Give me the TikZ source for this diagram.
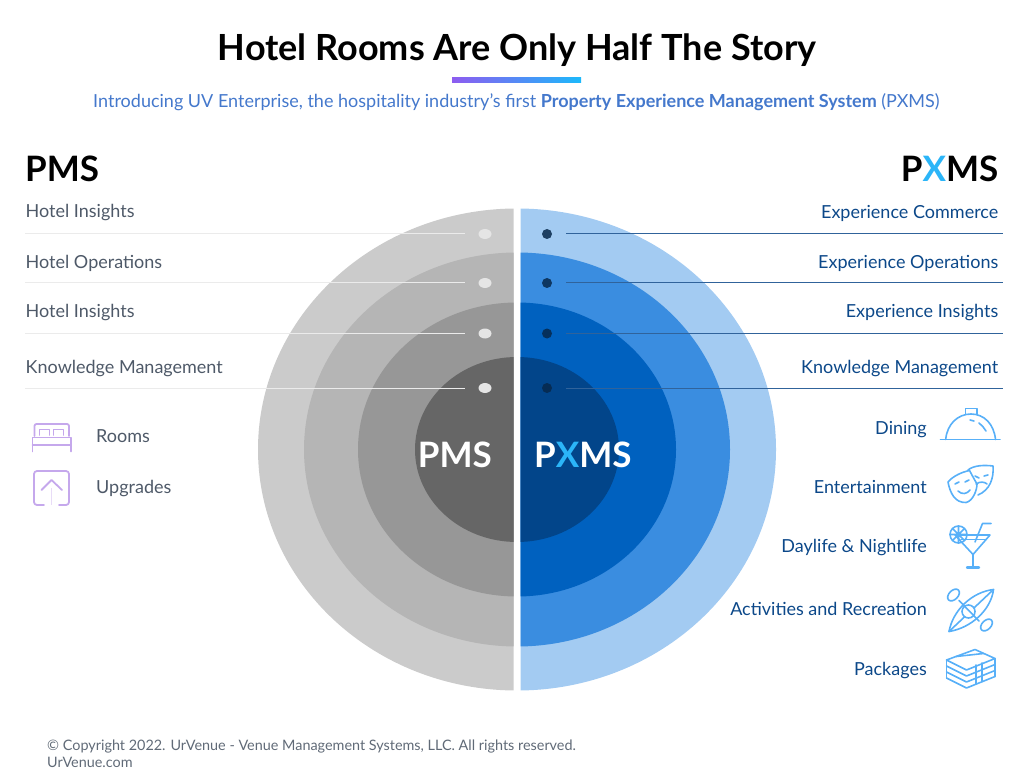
\documentclass[tikz,border=0pt]{standalone}
\usepackage{fontspec}
\setmainfont{Lato}
\usepackage{tikz}
\usetikzlibrary{positioning,
                shapes.geometric,
                arrows.meta}

\definecolor{pmstext}{HTML}{4E5968}
\definecolor{pxmstext}{HTML}{0C4889}
\definecolor{subblue}{HTML}{4478CC}
\definecolor{xblue}{HTML}{2BB5F8}
\definecolor{iconblue}{HTML}{58B0F8}
\definecolor{iconpurple}{HTML}{C5A8EC}
\definecolor{barleft}{HTML}{8D5CF0}
\definecolor{barright}{HTML}{1CB9FB}

\tikzset{
    pmslabel/.style={anchor=west, inner sep=0pt, text=pmstext, font=\fontsize{18}{20}\selectfont},
    pxmslabel/.style={anchor=east, inner sep=0pt, text=pxmstext, font=\fontsize{18}{20}\selectfont},
    heading/.style={inner sep=0pt, text=black, font=\fontsize{35}{40}\selectfont\bfseries},
    centerlabel/.style={inner sep=0pt, text=white, font=\fontsize{35}{40}\selectfont\bfseries},
    footer/.style={anchor=west, inner sep=0pt, text=pmstext!90, font=\fontsize{14.4}{16}\selectfont},
    pmsdot/.style={ellipse, fill=white!90!black, minimum width=13pt, minimum height=10pt, inner sep=0pt},
    pxmsdot/.style={circle, fill=black!45!pxmstext, opacity=.85, minimum size=10pt, inner sep=0pt},
    pmsline/.style={draw=black!8, line width=1pt},
    pxmsline/.style={draw=pxmstext!85, line width=1pt},
    iconblueline/.style={draw=iconblue, line width=1.6pt, line join=round, line cap=round},
    iconpurpleline/.style={draw=iconpurple, line width=1.8pt, line join=round, line cap=round},
}

\begin{document}
\begin{tikzpicture}[x=1pt, y=-1pt]
    \useasboundingbox (0,0) rectangle (1024,783);

    % title
    \node[inner sep=0pt, text=black, font=\fontsize{36}{40}\selectfont\bfseries] (title) at (517,50) {Hotel Rooms Are Only Half The Story};
    \shade[left color=barleft, right color=barright] (452,78) rectangle (581,82.5);
    \node[inner sep=0pt, text=subblue, font=\fontsize{18}{20}\selectfont] (subtitle) at (516.5,102)
        {Introducing UV Enterprise, the hospitality industry’s first \textbf{Property Experience Management System} (PXMS)};

    \node[heading, anchor=west] (pmshead) at (25,168.5) {PMS};
    \node[heading, anchor=east] (pxmshead) at (998.5,168.5) {P\textcolor{xblue}{X}MS};

    % half discs, outer to inner
    \begin{scope}
        \clip (200,200) rectangle (513.5,700);
        \foreach \rx/\ry/\shade in {259/241/CBCBCB, 213/197/B5B5B5, 159/147/979797, 102/92.5/666666}
        {
            \definecolor{ringcol}{HTML}{\shade}
            \fill[ringcol] (517,449.5) ellipse [x radius=\rx, y radius=\ry];
        }
    \end{scope}
    \begin{scope}
        \clip (520.5,200) rectangle (800,700);
        \foreach \rx/\ry/\shade in {259/241/A3CBF2, 213/197/3A8DE0, 159/147/0061BF, 102/92.5/02458A}
        {
            \definecolor{ringcol}{HTML}{\shade}
            \fill[ringcol] (517,449.5) ellipse [x radius=\rx, y radius=\ry];
        }
    \end{scope}

    \node[centerlabel, anchor=east] (pmscenter) at (492,455) {PMS};
    \node[centerlabel, anchor=west] (pxmscenter) at (534,455) {P\textcolor{xblue}{X}MS};

    % label rows
    \foreach \i/\ylab/\yline/\ltext/\rtext in {
        1/213/234/Hotel Insights/Experience Commerce,
        2/263.5/283/Hotel Operations/Experience Operations,
        3/313/333.5/Hotel Insights/Experience Insights,
        4/368.5/388/Knowledge Management/Knowledge Management}
    {
        \node[pmslabel] (pmsrow\i) at (25.5,\ylab) {\ltext};
        \node[pxmslabel] (pxmsrow\i) at (998.5,\ylab) {\rtext};
        \node[pmsdot] (pmsdot\i) at (485,\yline) {};
        \node[pxmsdot] (pxmsdot\i) at (547,\yline) {};
        \coordinate (pmsstart\i) at (25,\yline);
        \coordinate (pmsend\i) at (465,\yline);
        \coordinate (pxmsstart\i) at (566,\yline);
        \coordinate (pxmsend\i) at (1003,\yline);
        \draw[pmsline] (pmsstart\i) -- (pmsend\i);
        \draw[pxmsline] (pxmsstart\i) -- (pxmsend\i);
    }

    % left list
    \node[pmslabel] (rooms) at (96,436) {Rooms};
    \node[pmslabel] (upgrades) at (96,489) {Upgrades};

    % right list
    \foreach \name/\y/\txt in {
        dining/429.5/Dining,
        entertainment/487.5/Entertainment,
        daylife/548/Daylife \& Nightlife,
        activities/609/Activities and Recreation,
        packages/670.5/Packages}
    {
        \node[pxmslabel] (\name) at (927,\y) {\txt};
    }

    % footer
    \node[footer] (copyright) at (47,746.5) {© Copyright 2022. UrVenue - Venue Management Systems, LLC. All rights reserved.};
    \node[footer] (website) at (47,762.5) {UrVenue.com};

    % bed
    \draw[iconpurpleline] (34.5,436) -- (34.5,426) arc (180:270:2) -- (67,424) arc (270:360:2) -- (69,436);
    \draw[iconpurpleline] (39.5,435) -- (39.5,429.5) -- (49.5,429.5) -- (49.5,435);
    \draw[iconpurpleline] (53.5,435) -- (53.5,429.5) -- (63.5,429.5) -- (63.5,435);
    \draw[iconpurpleline] (32.5,451.5) -- (32.5,437.5) -- (71,437.5) -- (71,451.5);
    \draw[iconpurpleline] (32.5,445) -- (71,445);
    % upgrade box
    \draw[iconpurpleline] (44,505) -- (37,505) arc (90:180:3) -- (34,474) arc (180:270:3) -- (66,471) arc (270:360:3) -- (69,502) arc (0:90:3) -- (59,505);
    \draw[iconpurpleline] (41.5,490) -- (51.5,480) -- (62,490);
    \draw[iconpurple!40, line width=1.5pt] (51.5,488) -- (51.5,505);

    % cloche
    \draw[iconblueline] (940.5,439.5) -- (1000,439.5);
    \draw[iconblueline] (945.7,439.5) .. controls (947,424) and (958,414) .. (971,414) .. controls (984,414) and (994,424) .. (995.5,439.5);
    \draw[iconblueline] (965.5,414) -- (965.5,408.5) -- (977,408.5) -- (977,414);
    \draw[iconblueline] (970,420) -- (974,421);
    \draw[iconblueline] (979,423) .. controls (982,425) and (984,428) .. (986,431);

    % masks
    \draw[iconblueline] (969.5,470.5) .. controls (962,472) and (953,476) .. (948,482) .. controls (950,493) and (955,503) .. (966,502.5) .. controls (973,501) and (977,490) .. (977,484) .. controls (974,479) and (972,475) .. (969.5,470.5);
    \draw[iconblueline] (968,470) .. controls (974,465) and (985,465) .. (993,466) .. controls (994,478) and (990,490) .. (978,495);
    \draw[iconblueline] (955,484) -- (959,482);
    \draw[iconblueline] (965,482) -- (969,480);
    \draw[iconblueline] (958,491) .. controls (962,495) and (967,494) .. (970,490);
    \draw[iconblueline] (975,476) -- (979,478);
    \draw[iconblueline] (984,476) -- (988,475);
    \draw[iconblueline] (976,484) .. controls (980,481) and (985,482) .. (987,484);

    % cocktail
    \draw[iconblueline] (955,535) -- (990,535) -- (973,554.5) -- cycle;
    \draw[iconblueline] (973,554.5) -- (973,567);
    \draw[iconblueline, line width=2.4pt] (967,567.5) -- (979,567.5);
    \draw[iconblueline] (975,542) -- (982.5,523.5) -- (991,523.5);
    \draw[iconblueline] (958.5,534.5) circle (8.5);
    \draw[iconblueline] (950,534.5) -- (967,534.5) (958.5,526) -- (958.5,543) (952.5,528.5) -- (964.5,540.5) (964.5,528.5) -- (952.5,540.5);
    \draw[iconblueline] (961,539.5) -- (986,539.5);

    % kayak
    \draw[iconblueline] (949,631.5) .. controls (953,610) and (972,592) .. (993.5,589.5) .. controls (991,610) and (971,628) .. (949,631.5);
    \draw[iconblueline] (949,631.5) -- (993.5,589.5);
    \draw[iconblueline, fill=white] (968.5,611.5) ellipse [x radius=6.5, y radius=6.5];
    \draw[iconblueline] (959,600.5) -- (979,621);
    \draw[iconblueline, rotate around={45:(953.5,595)}] (953.5,595) ellipse [x radius=7, y radius=4.5];
    \draw[iconblueline, rotate around={45:(986.5,625)}] (986.5,625) ellipse [x radius=7, y radius=4.5];

    % banknote stack
    \draw[iconblueline] (946.5,660) -- (975,649.5) -- (995,658.5) -- (966.5,670) -- cycle;
    \foreach \d in {6,12,18}
    {
        \draw[iconblueline] (946.5,660+\d) -- (966.5,670+\d) -- (995,658.5+\d);
    }
    \draw[iconblueline] (946.5,660) -- (946.5,678);
    \draw[iconblueline] (995,658.5) -- (995,676.5);
    \draw[iconblueline] (956,656.5) -- (983.5,653.5);
    \draw[iconblueline] (976,665) -- (976,684) (982,663) -- (982,681.5);
\end{tikzpicture}
\end{document}
